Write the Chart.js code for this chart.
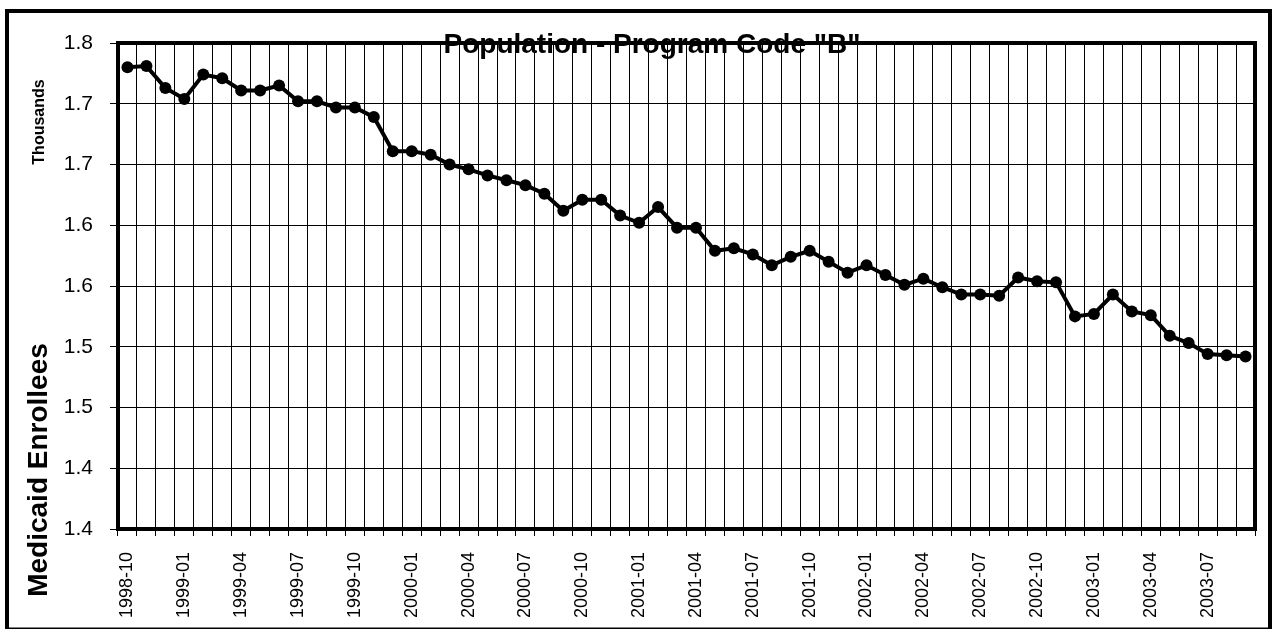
<!DOCTYPE html>
<html>
<head>
<meta charset="utf-8">
<script src="https://cdn.jsdelivr.net/npm/chart.js@4.4.1/dist/chart.umd.min.js"></script>
<style>
  html, body { margin: 0; padding: 0; background: #fff; }
  #wrap { position: relative; width: 1274px; height: 629px; }
</style>
</head>
<body>
<div id="wrap"><canvas id="myChart" width="1274" height="629"></canvas></div>
<script>
// months 1998-10 .. 2003-09
const months = [
  '1998-10', '1998-11', '1998-12',
  '1999-01', '1999-02', '1999-03', '1999-04', '1999-05', '1999-06',
  '1999-07', '1999-08', '1999-09', '1999-10', '1999-11', '1999-12',
  '2000-01', '2000-02', '2000-03', '2000-04', '2000-05', '2000-06',
  '2000-07', '2000-08', '2000-09', '2000-10', '2000-11', '2000-12',
  '2001-01', '2001-02', '2001-03', '2001-04', '2001-05', '2001-06',
  '2001-07', '2001-08', '2001-09', '2001-10', '2001-11', '2001-12',
  '2002-01', '2002-02', '2002-03', '2002-04', '2002-05', '2002-06',
  '2002-07', '2002-08', '2002-09', '2002-10', '2002-11', '2002-12',
  '2003-01', '2003-02', '2003-03', '2003-04', '2003-05', '2003-06',
  '2003-07', '2003-08', '2003-09'
];

// enrollees, thousands
const enrollees = [
  1.780, 1.781, 1.763,
  1.754, 1.774, 1.771, 1.761, 1.761, 1.765,
  1.752, 1.752, 1.747, 1.747, 1.739, 1.711,
  1.711, 1.708, 1.700, 1.696, 1.691, 1.687,
  1.683, 1.676, 1.662, 1.671, 1.671, 1.658,
  1.652, 1.665, 1.648, 1.648, 1.629, 1.631,
  1.626, 1.617, 1.624, 1.629, 1.620, 1.611,
  1.617, 1.609, 1.601, 1.606, 1.599, 1.593,
  1.593, 1.592, 1.607, 1.604, 1.603, 1.575,
  1.577, 1.593, 1.579, 1.576, 1.559, 1.553,
  1.544, 1.543, 1.542
];

// y tick labels as printed on the axis, bottom to top
const yTickLabels = ['1.4', '1.4', '1.5', '1.5', '1.6', '1.6', '1.7', '1.7', '1.8'];

const chartTitle = 'Population - Program Code "B"';
const unitLabel = 'Thousands';
const yAxisLabel = 'Medicaid Enrollees';

const FONT = "'Liberation Sans', Arial, sans-serif";

const decor = {
  id: 'decor',
  afterDraw(chart) {
    const { ctx, chartArea: a } = chart;
    ctx.save();
    ctx.strokeStyle = '#000';
    // plot frame
    ctx.lineWidth = 4;
    ctx.strokeRect(a.left, a.top, a.right - a.left, a.bottom - a.top);
    // outer frame
    ctx.strokeRect(7, 11, 1263, 618.5);

    ctx.fillStyle = '#000';
    ctx.textAlign = 'center';
    ctx.textBaseline = 'alphabetic';
    ctx.font = 'bold 28px ' + FONT;
    ctx.fillText(chartTitle, 652, 53);

    ctx.save();
    ctx.translate(44, 122);
    ctx.rotate(-Math.PI / 2);
    ctx.font = 'bold 16px ' + FONT;
    ctx.fillText(unitLabel, 0, 0);
    ctx.restore();

    ctx.save();
    ctx.translate(47, 470);
    ctx.rotate(-Math.PI / 2);
    ctx.font = 'bold 28px ' + FONT;
    ctx.fillText(yAxisLabel, 0, 0);
    ctx.restore();
    ctx.restore();
  }
};

new Chart(document.getElementById('myChart'), {
  type: 'line',
  data: {
    labels: months,
    datasets: [{
      data: enrollees,
      borderColor: '#000',
      backgroundColor: '#000',
      borderWidth: 4,
      pointRadius: 6,
      pointBackgroundColor: '#000',
      pointBorderWidth: 0,
      tension: 0,
      fill: false
    }]
  },
  options: {
    responsive: false,
    animation: false,
    layout: { padding: { top: 43, right: 19, left: 0, bottom: 0 } },
    plugins: {
      legend: { display: false },
      title: { display: false },
      tooltip: { enabled: false }
    },
    scales: {
      x: {
        offset: true,
        grid: { offset: true, color: '#000', lineWidth: 1, tickLength: 7, tickColor: '#000' },
        border: { display: false },
        afterFit(scale) {
          scale.height = 100;
          scale.paddingLeft = 0;
          scale.paddingRight = 0;
        },
        ticks: {
          autoSkip: false,
          maxRotation: 90,
          minRotation: 90,
          padding: 16,
          color: '#000',
          font: { family: FONT, size: 18 },
          callback(value, index) { return index % 3 === 0 ? months[index] : ''; }
        }
      },
      y: {
        min: 1.4,
        max: 1.8,
        grid: { color: '#000', lineWidth: 1, tickLength: 8, tickColor: '#000' },
        border: { display: false },
        afterFit(scale) {
          scale.width = 118;
          scale.paddingTop = 0;
          scale.paddingBottom = 0;
        },
        afterBuildTicks(scale) {
          scale.ticks = yTickLabels.map((_, i) => ({ value: 1.4 + i * 0.05 }));
        },
        ticks: {
          padding: 17,
          color: '#000',
          font: { family: FONT, size: 21 },
          callback(value, index) { return yTickLabels[index]; }
        }
      }
    }
  },
  plugins: [decor]
});
</script>
</body>
</html>
